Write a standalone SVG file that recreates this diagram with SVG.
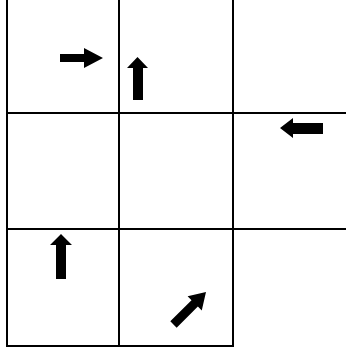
<svg xmlns="http://www.w3.org/2000/svg" width="346" height="352" viewBox="0 0 346 352">
<style>
.grid{stroke:#000;stroke-width:2;fill:none;stroke-linecap:square}
.arrow{fill:#000;stroke:none}
</style>
<rect width="346" height="352" fill="#fff"/>
<g id="grid" class="grid">
<line x1="7" y1="0" x2="7" y2="346"/>
<line x1="119" y1="0" x2="119" y2="346"/>
<line x1="233" y1="0" x2="233" y2="346"/>
<line x1="7" y1="113" x2="346" y2="113"/>
<line x1="7" y1="229" x2="346" y2="229"/>
<line x1="7" y1="346" x2="233" y2="346"/>
</g>
<g id="arrows">
<g id="cell-1-1"><polygon class="arrow" points="60,54 84,54 84,48 103,58 84,68 84,62 60,62"/></g>
<g id="cell-1-2"><polygon class="arrow" points="133,100 133,68 127,68 137.5,57 148,68 143,68 143,100"/></g>
<g id="cell-2-3"><polygon class="arrow" points="280,128 293,118 293,123 323,123 323,134 293,134 293,138"/></g>
<g id="cell-3-1"><polygon class="arrow" points="56,279 56,245 50,245 61,234 72,245 66,245 66,279"/></g>
<g id="cell-3-2"><polygon class="arrow" transform="translate(206,292) rotate(-45)" points="-46,-4.5 -16,-4.5 -16,-10 0,0 -16,10 -16,4.5 -46,4.5"/></g>
</g>
</svg>
